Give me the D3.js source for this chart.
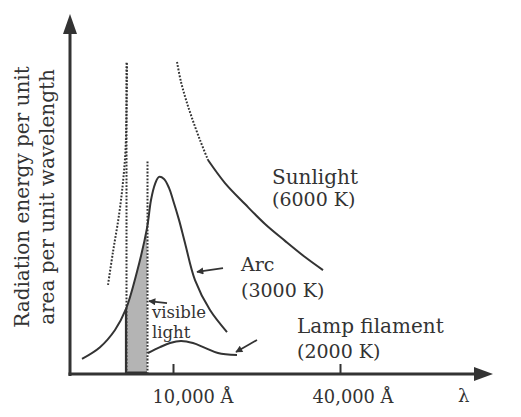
<!DOCTYPE html>
<html>
<head>
<meta charset="utf-8">
<title>Radiation spectra</title>
<style>
  body { margin: 0; background: #fff; }
  text { font-family: "DejaVu Serif", serif; fill: #333; }
</style>
</head>
<body>

<div id="my_dataviz"></div>

<script src="https://d3js.org/d3.v7.min.js"></script>
<script>

// wavelength (Angstrom) and relative energy
var arcWave = [857, 2143, 3214, 4000, 5571, 7000, 7462, 7923, 8385, 8962, 9538, 10000, 11078, 12156, 13952, 16647, 19700];
var arcVal  = [4.4, 7.8, 12.8, 18.9, 29.7, 42.4, 50.6, 55.2, 57.3, 56.7, 54.1, 50.6, 44.8, 38.1, 27.3, 18.6, 12.2];

var lampWave = [7115, 8500, 9654, 11437, 13593, 15748, 18084, 21497];
var lampVal  = [6.1, 7.8, 9.0, 9.6, 9.0, 7.6, 6.1, 5.5];

// sunlight: short wavelength side (dotted), long side dotted then solid
var sunLeftWave = [2714, 3071, 3500, 3786, 3964, 4071, 4143];
var sunLeftVal  = [25.9, 35.5, 46.2, 55.8, 65.1, 76.7, 90.7];
var sunDotWave  = [10719, 11437, 12335, 13413, 14850, 16287];
var sunDotVal   = [90.7, 84.9, 79.7, 74.4, 68.0, 62.2];
var sunWave = [16287, 19341, 22934, 26527, 30120, 33712, 36946];
var sunVal  = [62.2, 55.5, 49.4, 43.6, 38.7, 34.0, 30.2];

// visible band edges and how high their dotted guides go
var visibleWave = [4000, 7000];
var visibleTop  = [90.7, 62.2];

var tickWave   = [10000, 40000];
var tickLabels = ["10,000 Å", "40,000 Å"];

// pointer arrows [tailWave, tailVal, headWave, headVal]
var arcPointer  = [18982, 30.8, 14311, 29.7];
var visPointer  = [9308, 20.6, 7231, 21.2];
var lampPointer = [25090, 9.9, 21317, 6.4];

function zip(xs, ys) { return xs.map(function(d, i) { return {w: d, v: ys[i]}; }); }

var width = 521, height = 417;

var svg = d3.select("#my_dataviz")
  .append("svg")
    .attr("width", width)
    .attr("height", height);

// schematic, non uniform wavelength axis
var x = d3.scaleLinear()
  .domain([0, 4000, 7000, 10000, 40000])
  .range([70, 126, 147, 173, 340]);
var y = d3.scaleLinear().domain([0, 100]).range([374, 30]);

var ink = "#333";

var line = d3.line()
  .x(function(d) { return x(d.w); })
  .y(function(d) { return y(d.v); })
  .curve(d3.curveCatmullRom.alpha(0.5));

var area = d3.area()
  .x(function(d) { return x(d.w); })
  .y0(y(0))
  .y1(function(d) { return y(d.v); })
  .curve(d3.curveCatmullRom.alpha(0.5));

// visible band: area under the arc curve between 4000 and 7000
svg.append("clipPath").attr("id", "vis")
  .append("rect")
    .attr("x", x(visibleWave[0]))
    .attr("y", 0)
    .attr("width", x(visibleWave[1]) - x(visibleWave[0]))
    .attr("height", y(0));

svg.append("path")
  .datum(zip(arcWave, arcVal))
  .attr("clip-path", "url(#vis)")
  .attr("d", area)
  .attr("fill", "#b4b4b4");

svg.append("line")
  .attr("x1", x(visibleWave[0])).attr("x2", x(visibleWave[0]))
  .attr("y1", y(0)).attr("y2", y(18.9))
  .attr("stroke", ink).attr("stroke-width", 2.2);
svg.append("line")
  .attr("x1", x(visibleWave[0])).attr("x2", x(visibleWave[1]))
  .attr("y1", y(0) - 1.5).attr("y2", y(0) - 1.5)
  .attr("stroke", ink).attr("stroke-width", 2);

// dotted guides on the band edges
svg.selectAll(".guide")
  .data(visibleWave)
  .enter().append("line")
    .attr("class", "guide")
    .attr("x1", function(d) { return x(d) + 0.5; })
    .attr("x2", function(d) { return x(d) + 0.5; })
    .attr("y1", y(0))
    .attr("y2", function(d, i) { return y(visibleTop[i]); })
    .attr("stroke", ink)
    .attr("stroke-width", 2)
    .attr("stroke-dasharray", "1.8,1.6");

// curves
function curve(data, dotted) {
  svg.append("path")
    .datum(data)
    .attr("d", line)
    .attr("fill", "none")
    .attr("stroke", ink)
    .attr("stroke-width", 2)
    .attr("stroke-dasharray", dotted ? "1.8,1.6" : null);
}
curve(zip(sunLeftWave, sunLeftVal), true);
curve(zip(sunDotWave, sunDotVal), true);
curve(zip(sunWave, sunVal), false);
curve(zip(arcWave, arcVal), false);
curve(zip(lampWave, lampVal), false);

// axes
svg.append("line")
  .attr("x1", x(0)).attr("x2", x(0))
  .attr("y1", y(0) + 2).attr("y2", 30)
  .attr("stroke", ink).attr("stroke-width", 3);
svg.append("path")
  .attr("d", "M" + x(0) + ",14 L" + (x(0) - 7) + ",34 L" + (x(0) + 7) + ",34 Z")
  .attr("fill", ink);

var xEnd = 493;
svg.append("line")
  .attr("x1", x(0) - 1.5).attr("x2", xEnd - 14)
  .attr("y1", y(0)).attr("y2", y(0))
  .attr("stroke", ink).attr("stroke-width", 3);
svg.append("path")
  .attr("d", "M" + xEnd + "," + y(0) + " L" + (xEnd - 19) + "," + (y(0) - 7) +
             " L" + (xEnd - 19) + "," + (y(0) + 7) + " Z")
  .attr("fill", ink);

var xAxis = d3.axisBottom(x)
  .tickValues(tickWave)
  .tickSizeInner(-10)
  .tickSizeOuter(0)
  .tickPadding(16)
  .tickFormat(function(d, i) { return tickLabels[i]; });

var gx = svg.append("g")
  .attr("transform", "translate(0," + y(0) + ")")
  .call(xAxis);
gx.select(".domain").remove();
gx.selectAll(".tick line").attr("stroke", ink).attr("stroke-width", 2);
gx.selectAll(".tick text")
  .attr("font-family", "DejaVu Serif")
  .attr("font-size", 18)
  .attr("fill", ink)
  .attr("text-anchor", "start")
  .attr("x", function(d, i) { return i === 0 ? -21 : -28; })
  .attr("textLength", 81)
  .attr("lengthAdjust", "spacingAndGlyphs");

svg.append("text")
  .attr("x", 458).attr("y", 402)
  .attr("font-size", 18)
  .text("λ");

// y axis title
svg.append("text")
  .attr("transform", "translate(29,197) rotate(-90)")
  .attr("text-anchor", "middle")
  .attr("font-size", 20)
  .text("Radiation energy per unit");
svg.append("text")
  .attr("transform", "translate(54,197) rotate(-90)")
  .attr("text-anchor", "middle")
  .attr("font-size", 20)
  .text("area per unit wavelength");

// pointers
svg.append("defs").append("marker")
  .attr("id", "head")
  .attr("viewBox", "0 0 10 10")
  .attr("refX", 9).attr("refY", 5)
  .attr("markerWidth", 9).attr("markerHeight", 7)
  .attr("markerUnits", "userSpaceOnUse")
  .attr("orient", "auto")
  .append("path")
    .attr("d", "M0,0 L10,5 L0,10 Z")
    .attr("fill", ink);

[arcPointer, visPointer, lampPointer].forEach(function(p) {
  svg.append("line")
    .attr("x1", x(p[0])).attr("y1", y(p[1]))
    .attr("x2", x(p[2])).attr("y2", y(p[3]))
    .attr("stroke", ink)
    .attr("stroke-width", 1.8)
    .attr("marker-end", "url(#head)");
});

// labels
function label(t, px, py, size) {
  svg.append("text").attr("x", px).attr("y", py).attr("font-size", size).text(t);
}
label("Sunlight", 272, 184, 20);
label("(6000 K)", 272, 206, 19);
label("Arc", 241, 271, 19);
label("(3000 K)", 241, 297, 19);
label("visible", 152, 318, 16.5);
label("light", 152, 338, 16.5);
label("Lamp filament", 297, 333, 20);
label("(2000 K)", 297, 358, 19);

</script>
</body>
</html>
